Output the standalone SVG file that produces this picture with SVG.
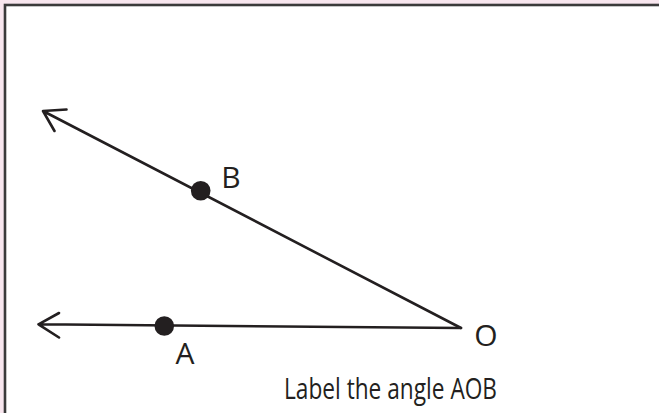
<svg xmlns="http://www.w3.org/2000/svg" width="659" height="413" viewBox="0 0 659 413">
  <style>
    .ray { fill: none; stroke: #231f20; stroke-width: 2.6; stroke-linecap: round; stroke-linejoin: round; }
    .dot { fill: #231f20; }
    .lbl { font-family: "Open Sans", "Noto Sans", sans-serif; font-size: 30px; fill: #231f20; text-anchor: middle; }
    .cap { font-family: "Open Sans", "Noto Sans", sans-serif; font-size: 29px; fill: #231f20; }
  </style>
  <rect x="0" y="0" width="659" height="413" fill="#f8e6ee"/>
  <rect id="frame" x="5" y="5" width="700" height="450" fill="#ffffff" stroke="#3a3a3a" stroke-width="2.6"/>
  <g id="connectors">
    <path id="ray-OB" class="ray" d="M461,328 L43,111 M66.5,109.5 L43,111 L54.5,131"/>
    <path id="ray-OA" class="ray" d="M461,328 L38.5,324.3 M59,313 L38.5,324.3 L59,337.5"/>
  </g>
  <g id="node-B">
    <circle class="dot" cx="200.7" cy="190.7" r="9.8"/>
    <text class="lbl" x="231" y="188">B</text>
  </g>
  <g id="node-A">
    <circle class="dot" cx="164.3" cy="326" r="9.8"/>
    <text class="lbl" x="185" y="364">A</text>
  </g>
  <g id="node-O">
    <text class="lbl" x="486" y="345.5">O</text>
  </g>
  <text class="cap" x="284" y="399" textLength="213" lengthAdjust="spacingAndGlyphs">Label the angle AOB</text>
</svg>
